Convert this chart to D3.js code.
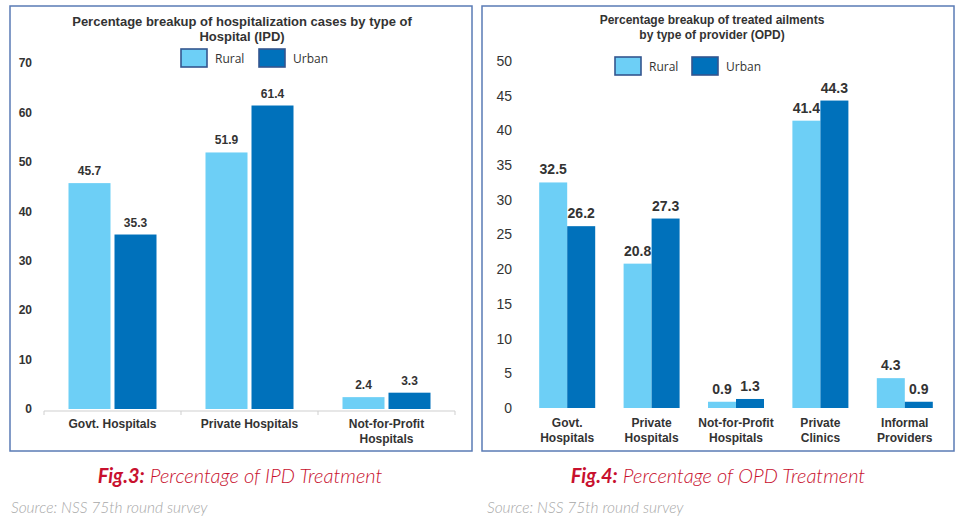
<!DOCTYPE html>
<html>
<head>
<meta charset="utf-8">
<script src="https://cdn.jsdelivr.net/npm/d3@7"></script>
<style>
  body { margin: 0; background: #fff; }
  svg { display: block; }
</style>
</head>
<body>
<div id="chart"></div>
<script>
// ---- Data ----
const seriesNames = ['Rural', 'Urban'];

const ipdCategories = [['Govt. Hospitals'], ['Private Hospitals'], ['Not-for-Profit', 'Hospitals']];
const ipdRural = [45.7, 51.9, 2.4];
const ipdUrban = [35.3, 61.4, 3.3];
const ipdTicks = [0, 10, 20, 30, 40, 50, 60, 70];

const opdCategories = [['Govt.', 'Hospitals'], ['Private', 'Hospitals'], ['Not-for-Profit', 'Hospitals'],
  ['Private', 'Clinics'], ['Informal', 'Providers']];
const opdRural = [32.5, 20.8, 0.9, 41.4, 4.3];
const opdUrban = [26.2, 27.3, 1.3, 44.3, 0.9];
const opdTicks = [0, 5, 10, 15, 20, 25, 30, 35, 40, 45, 50];

// ---- Styles ----
const colors = { Rural: '#6dcff6', Urban: '#0071bb' };
const boxStroke = '#34568f';
const panelStroke = '#5a7bb5';
const textDark = '#333333';

const width = 961, height = 525;

const svg = d3.select('#chart').append('svg')
  .attr('width', width)
  .attr('height', height);

function drawPanel(cfg) {
  const g = svg.append('g');

  // frame
  g.append('rect')
    .attr('x', cfg.frame[0]).attr('y', cfg.frame[1])
    .attr('width', cfg.frame[2]).attr('height', cfg.frame[3])
    .attr('fill', 'none')
    .attr('stroke', panelStroke)
    .attr('stroke-width', 1.5);

  // title
  cfg.title.forEach((line, i) => {
    g.append('text')
      .attr('x', cfg.titleX)
      .attr('y', cfg.titleY + i * 15)
      .attr('text-anchor', 'middle')
      .attr('font-family', 'Liberation Sans, Arial, sans-serif')
      .attr('font-weight', 'bold')
      .attr('font-size', cfg.titleSize)
      .attr('fill', textDark)
      .text(line);
  });

  // legend
  seriesNames.forEach((s, i) => {
    const lx = cfg.legendX + i * cfg.legendStep;
    g.append('rect')
      .attr('x', lx).attr('y', cfg.legendY)
      .attr('width', 26).attr('height', 18)
      .attr('fill', colors[s])
      .attr('stroke', boxStroke)
      .attr('stroke-width', 1.6);
    g.append('text')
      .attr('x', lx + 34).attr('y', cfg.legendY + 13.5)
      .attr('font-family', 'Open Sans, sans-serif')
      .attr('font-size', 12)
      .attr('fill', textDark)
      .text(s);
  });

  // scales
  const y = d3.scaleLinear().domain(cfg.yDomain).range(cfg.yRange);
  const x0 = d3.scaleBand().domain(d3.range(cfg.categories.length)).range(cfg.xRange);
  const x1 = d3.scaleBand().domain(seriesNames)
    .range([(x0.bandwidth() - cfg.groupWidth) / 2, (x0.bandwidth() + cfg.groupWidth) / 2])
    .paddingInner(cfg.barGap);

  // y axis
  const yAxis = d3.axisLeft(y).tickValues(cfg.ticks).tickSize(0).tickPadding(0);
  const ya = g.append('g')
    .attr('transform', `translate(${cfg.yLabelX},0)`)
    .call(yAxis);
  ya.select('.domain').remove();
  ya.selectAll('text')
    .attr('font-family', 'Liberation Sans, Arial, sans-serif')
    .attr('font-weight', cfg.tickWeight)
    .attr('font-size', cfg.tickSize)
    .attr('fill', textDark);

  // x axis line
  if (cfg.xAxisLine) {
    const base = y(0) + 2;
    g.append('line')
      .attr('x1', cfg.xRange[0]).attr('x2', cfg.xRange[1])
      .attr('y1', base).attr('y2', base)
      .attr('stroke', '#cfcfcf').attr('stroke-width', 1);
    d3.range(cfg.categories.length + 1).forEach(i => {
      const tx = cfg.xRange[0] + i * x0.step();
      g.append('line')
        .attr('x1', tx).attr('x2', tx)
        .attr('y1', base).attr('y2', base + 4)
        .attr('stroke', '#cfcfcf').attr('stroke-width', 1);
    });
  }

  // bars
  const rows = cfg.categories.map((c, i) => ({
    i,
    values: [{ s: 'Rural', v: cfg.rural[i] }, { s: 'Urban', v: cfg.urban[i] }],
  }));

  const grp = g.selectAll('.grp')
    .data(rows)
    .join('g')
    .attr('transform', d => `translate(${x0(d.i)},0)`);

  grp.selectAll('rect')
    .data(d => d.values)
    .join('rect')
    .attr('x', d => x1(d.s))
    .attr('y', d => y(d.v))
    .attr('width', x1.bandwidth())
    .attr('height', d => y(0) - y(d.v))
    .attr('fill', d => colors[d.s]);

  grp.selectAll('text.val')
    .data(d => d.values)
    .join('text')
    .attr('class', 'val')
    .attr('x', d => x1(d.s) + x1.bandwidth() / 2)
    .attr('y', d => y(d.v) - cfg.valueOffset)
    .attr('text-anchor', 'middle')
    .attr('font-family', 'Liberation Sans, Arial, sans-serif')
    .attr('font-weight', 'bold')
    .attr('font-size', cfg.valueSize)
    .attr('fill', textDark)
    .text(d => d.v.toFixed(1));

  // category labels
  grp.each(function (d) {
    const lines = cfg.categories[d.i];
    lines.forEach((line, j) => {
      d3.select(this).append('text')
        .attr('x', x0.bandwidth() / 2)
        .attr('y', cfg.catY + j * 14.5)
        .attr('text-anchor', 'middle')
        .attr('font-family', 'Liberation Sans, Arial, sans-serif')
        .attr('font-weight', 'bold')
        .attr('font-size', 12)
        .attr('fill', textDark)
        .text(line);
    });
  });

  // figure caption
  const cap = g.append('text')
    .attr('x', cfg.captionX)
    .attr('y', 483)
    .attr('text-anchor', 'middle')
    .attr('font-family', 'Lato, sans-serif')
    .attr('font-style', 'italic')
    .attr('font-size', 20)
    .attr('fill', '#c8102e');
  cap.append('tspan').attr('font-weight', 'bold').text(cfg.figLabel);
  cap.append('tspan').attr('font-weight', 300).text(' ' + cfg.caption);

  g.append('text')
    .attr('x', cfg.sourceX)
    .attr('y', 513)
    .attr('font-family', 'Lato, sans-serif')
    .attr('font-style', 'italic')
    .attr('font-weight', 300)
    .attr('font-size', 15.5)
    .attr('fill', '#a8a8a8')
    .text('Source: NSS 75th round survey');
}

drawPanel({
  frame: [10, 6, 462, 445],
  title: ['Percentage breakup of hospitalization cases by type of', 'Hospital (IPD)'],
  titleX: 242, titleY: 26, titleSize: 13,
  legendX: 181, legendY: 49, legendStep: 78,
  yDomain: [0, 70], yRange: [409, 63],
  ticks: ipdTicks, yLabelX: 32, tickWeight: 'bold', tickSize: 12,
  xRange: [44, 455], groupWidth: 88, barGap: 0.087,
  xAxisLine: true,
  categories: ipdCategories, rural: ipdRural, urban: ipdUrban,
  valueOffset: 8, valueSize: 12,
  catY: 428,
  captionX: 240, figLabel: 'Fig.3:', caption: 'Percentage of IPD Treatment',
  sourceX: 11,
});

drawPanel({
  frame: [482, 6, 472, 445],
  title: ['Percentage breakup of treated ailments', 'by type of provider (OPD)'],
  titleX: 712, titleY: 24, titleSize: 12,
  legendX: 615, legendY: 57, legendStep: 77,
  yDomain: [0, 50], yRange: [408, 61],
  ticks: opdTicks, yLabelX: 512, tickWeight: 'normal', tickSize: 14,
  xRange: [525, 947], groupWidth: 56, barGap: 0,
  xAxisLine: false,
  categories: opdCategories, rural: opdRural, urban: opdUrban,
  valueOffset: 8, valueSize: 14,
  catY: 427,
  captionX: 718, figLabel: 'Fig.4:', caption: 'Percentage of OPD Treatment',
  sourceX: 487,
});
</script>
</body>
</html>
